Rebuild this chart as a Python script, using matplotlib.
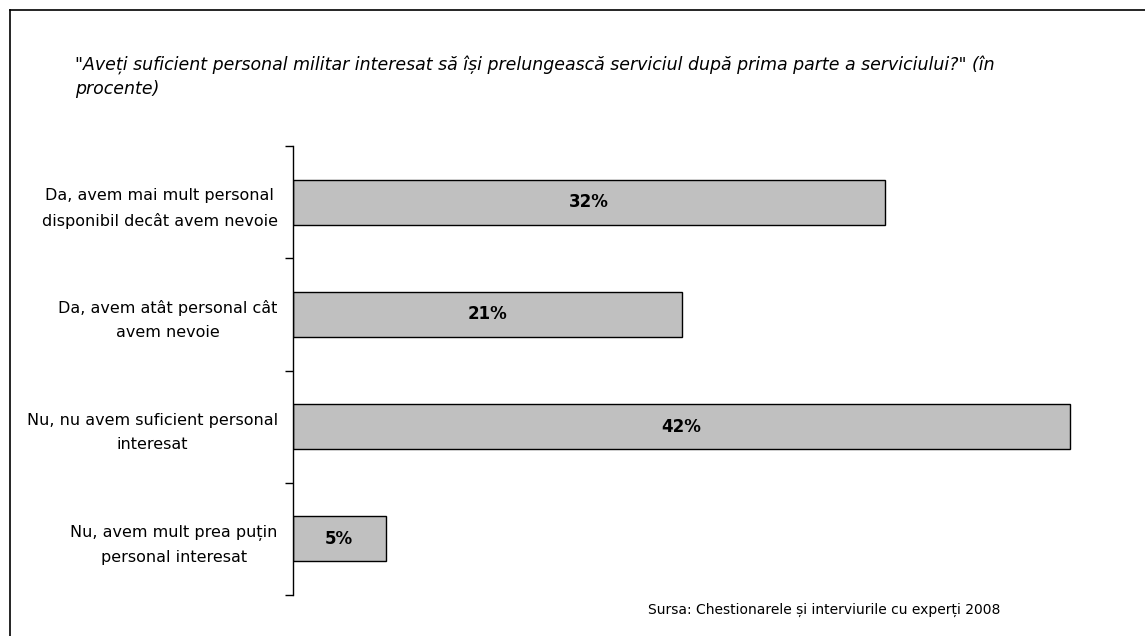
import matplotlib.pyplot as plt
from matplotlib.lines import Line2D

# survey answers, top to bottom
answers = [
    "Da, avem mai mult personal\ndisponibil decât avem nevoie",
    "Da, avem atât personal cât\navem nevoie",
    "Nu, nu avem suficient personal\ninteresat",
    "Nu, avem mult prea puțin\npersonal interesat",
]
percents = [32, 21, 42, 5]

W, H = 1145, 636
fig = plt.figure(figsize=(W / 100, H / 100), dpi=100)
fig.patch.set_facecolor("white")

# axes box in pixel coordinates
left, right, top, bottom = 293, 1107, 146, 595
ax = fig.add_axes([left / W, 1 - bottom / H, (right - left) / W, (bottom - top) / H])

ypos = list(range(len(answers)))
ax.barh(ypos, percents, height=0.4, color="#c0c0c0", edgecolor="black", linewidth=1)
for y, v in zip(ypos, percents):
    ax.text(v / 2, y, f"{v}%", ha="center", va="center",
            fontsize=12, fontweight="bold", family="DejaVu Sans")

ax.set_xlim(0, 44)
ax.set_ylim(len(answers) - 0.5, -0.5)

ax.set_yticks(ypos)
ax.set_yticklabels(answers, fontsize=11.5, family="DejaVu Sans", ha="right",
                   multialignment="center", linespacing=1.75)
ax.tick_params(axis="y", which="major", length=0, pad=11)
ax.set_yticks([i - 0.5 for i in range(len(answers) + 1)], minor=True)
ax.tick_params(axis="y", which="minor", length=6, width=1, direction="out")
ax.set_xticks([])
for s in ["top", "right", "bottom"]:
    ax.spines[s].set_visible(False)
ax.spines["left"].set_linewidth(1)

fig.text(75 / W, 1 - 77 / H,
         "\"Aveți suficient personal militar interesat să își prelungească serviciul după prima parte a serviciului?\" (în\nprocente)",
         ha="left", va="center", fontsize=12.5, style="italic", family="DejaVu Sans",
         linespacing=1.35)

fig.text(648 / W, 1 - 610 / H, "Sursa: Chestionarele și interviurile cu experți 2008",
         ha="left", va="center", fontsize=10, family="DejaVu Sans")

# outer frame (left and top edges)
fig.add_artist(Line2D([9.5 / W, 9.5 / W], [0, 1 - 10 / H], color="black", lw=1.2,
                      transform=fig.transFigure))
fig.add_artist(Line2D([9.5 / W, 1], [1 - 10 / H, 1 - 10 / H], color="black", lw=1.2,
                      transform=fig.transFigure))

fig.savefig("out.png", dpi=100)
